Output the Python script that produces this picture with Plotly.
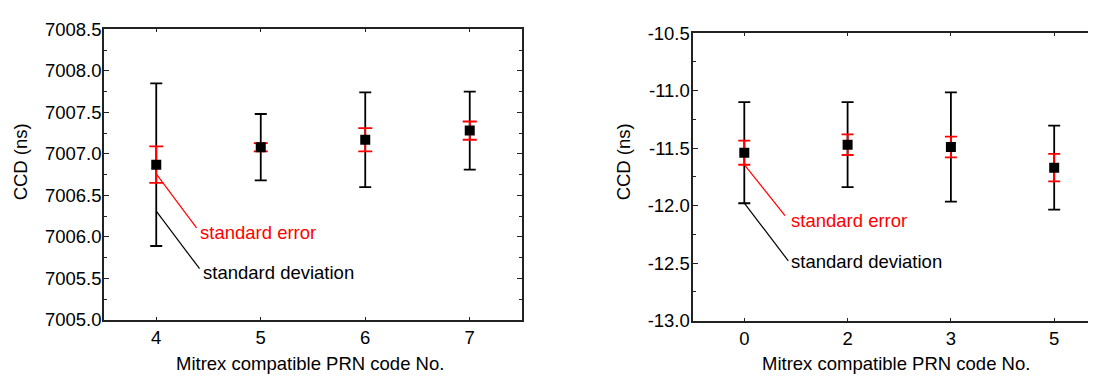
import plotly.graph_objects as go

# ---------------- data ----------------
# left panel
left_codes = [4, 5, 6, 7]
left_mean = [7006.87, 7007.08, 7007.17, 7007.28]
left_sd = [0.98, 0.40, 0.57, 0.47]
left_se = [0.22, 0.05, 0.14, 0.11]
left_yticks = [7005.0, 7005.5, 7006.0, 7006.5, 7007.0, 7007.5, 7008.0, 7008.5]

# right panel
right_codes = ["0", "2", "3", "5"]
right_mean = [-11.54, -11.47, -11.49, -11.67]
right_sd = [0.44, 0.37, 0.475, 0.365]
right_se = [0.105, 0.09, 0.09, 0.12]
right_yticks = [-13.0, -12.5, -12.0, -11.5, -11.0, -10.5]

# callout anchor values (y on first bar) for the labels
left_callout_y = [7006.76, 7006.31]     # standard error, standard deviation
right_callout_y = [-11.643, -11.979]

FONT = "Arial, Liberation Sans, sans-serif"
FS = 18.5

# page body has an 8px margin: size the figure so the page fits the 1096x385 window
BODY = 8
W, H = 1096 - 2 * BODY, 385 - 2 * BODY

def fx(x):
    return (x - BODY) / W

def fy(y):
    return 1 - (y - BODY) / H

right_pos = list(range(len(right_codes)))

fig = go.Figure()

# left: SD bars (black), SE bars (red), mean markers
fig.add_trace(go.Scatter(
    x=left_codes, y=left_mean, mode="markers",
    marker=dict(color="rgba(0,0,0,0)", size=1),
    error_y=dict(type="data", array=left_sd, color="black", thickness=1.8, width=6),
    xaxis="x", yaxis="y", showlegend=False, hoverinfo="skip"))
fig.add_trace(go.Scatter(
    x=left_codes, y=left_mean, mode="markers",
    marker=dict(color="black", size=10, symbol="square"),
    error_y=dict(type="data", array=left_se, color="red", thickness=1.8, width=7),
    xaxis="x", yaxis="y", showlegend=False))

# right
fig.add_trace(go.Scatter(
    x=right_pos, y=right_mean, mode="markers",
    marker=dict(color="rgba(0,0,0,0)", size=1),
    error_y=dict(type="data", array=right_sd, color="black", thickness=1.8, width=6),
    xaxis="x2", yaxis="y2", showlegend=False, hoverinfo="skip"))
fig.add_trace(go.Scatter(
    x=right_pos, y=right_mean, mode="markers",
    marker=dict(color="black", size=10, symbol="square"),
    error_y=dict(type="data", array=right_se, color="red", thickness=1.8, width=6),
    xaxis="x2", yaxis="y2", showlegend=False))

# ---- geometry (target pixels in the picture) ----
L_x0, L_x1, L_y0, L_y1 = 104, 522, 19, 327
R_x0, R_y0, R_y1 = 693.3, 23, 327.7
R_x1 = BODY + W  # right panel runs off the picture

axis_common = dict(
    showline=True, linecolor="#222", linewidth=1.6, showgrid=False, zeroline=False,
    tickfont=dict(family=FONT, size=FS, color="black"),
)

# right x range: category 0 at px 744.3, spacing 103.3
r_left = (R_x0 - 744.3) / 103.3
r_right = (R_x1 - 744.3) / 103.3

fig.update_layout(
    width=W, height=H,
    margin=dict(l=0, r=0, t=0, b=0),
    paper_bgcolor="white", plot_bgcolor="white",
    font=dict(family=FONT, size=FS, color="black"),
    xaxis=dict(domain=[fx(L_x0), fx(L_x1)], range=[3.5, 7.5], tickvals=left_codes,
               ticktext=[str(c) for c in left_codes],
               ticks="inside", ticklen=3, tickcolor="#222", mirror="ticks", anchor="y",
               **axis_common),
    yaxis=dict(domain=[fy(L_y1), fy(L_y0)], range=[left_yticks[0], left_yticks[-1]],
               tickvals=left_yticks, ticktext=[f"{v:.1f}" for v in left_yticks],
               ticks="inside", ticklen=5, tickcolor="#222", mirror="ticks", anchor="x",
               ticklabelstandoff=-3, ticklabeloverflow="allow",
               minor=dict(dtick=0.25, tick0=7005.0, ticks="inside", ticklen=3, tickcolor="#222"),
               **axis_common),
    xaxis2=dict(domain=[fx(R_x0), 1.0], range=[r_left, r_right], tickvals=right_pos,
                ticktext=right_codes,
                ticks="inside", ticklen=3, tickcolor="#222", mirror="ticks", anchor="y2",
                **axis_common),
    yaxis2=dict(domain=[fy(R_y1), fy(R_y0)], range=[right_yticks[0], right_yticks[-1]],
                tickvals=right_yticks, ticktext=[f"{v:.1f}" for v in right_yticks],
                ticks="inside", ticklen=5, tickcolor="#222", mirror=False, anchor="x2",
                ticklabelstandoff=-2, ticklabeloverflow="allow",
                minor=dict(dtick=0.25, tick0=-13.0, ticks="inside", ticklen=3, tickcolor="#222"),
                **axis_common),
)

# axis titles as annotations
ann = []
xt = "Mitrex compatible PRN code No."
ann.append(dict(text=xt, x=fx(309.5), y=fy(373), xref="paper", yref="paper",
                xanchor="center", yanchor="middle", showarrow=False, font=dict(size=FS)))
ann.append(dict(text=xt, x=fx(896), y=fy(373), xref="paper", yref="paper",
                xanchor="center", yanchor="middle", showarrow=False, font=dict(size=FS)))
ann.append(dict(text="CCD (ns)", x=fx(20), y=fy(160), xref="paper", yref="paper",
                xanchor="center", yanchor="middle", textangle=-90, showarrow=False, font=dict(size=FS)))
ann.append(dict(text="CCD (ns)", x=fx(623), y=fy(160), xref="paper", yref="paper",
                xanchor="center", yanchor="middle", textangle=-90, showarrow=False, font=dict(size=FS)))

shapes = []

def callout(xref, yref, xa, ya, dx, dy, tx, ty, text, color):
    shapes.append(dict(type="line", xref=xref, yref=yref, xsizemode="pixel", ysizemode="pixel",
                       xanchor=xa, yanchor=ya, x0=0, y0=0, x1=dx, y1=dy,
                       line=dict(color=color, width=1.2)))
    ann.append(dict(text=text, x=xa, y=ya, xref=xref, yref=yref, xanchor="left", yanchor="middle",
                    xshift=tx, yshift=ty, showarrow=False, font=dict(size=FS, color=color)))

callout("x", "y", left_codes[0], left_callout_y[0], 40.3, -54, 42, -58.7, "standard error", "red")
callout("x", "y", left_codes[0], left_callout_y[1], 43.3, -57.6, 45, -61.3, "standard deviation", "black")
callout("x2", "y2", right_pos[0], right_callout_y[0], 40.7, -51, 44.5, -56, "standard error", "red")
callout("x2", "y2", right_pos[0], right_callout_y[1], 44, -57.7, 45, -58.4, "standard deviation", "black")

fig.update_layout(annotations=ann, shapes=shapes)

fig.write_html("out.html")
